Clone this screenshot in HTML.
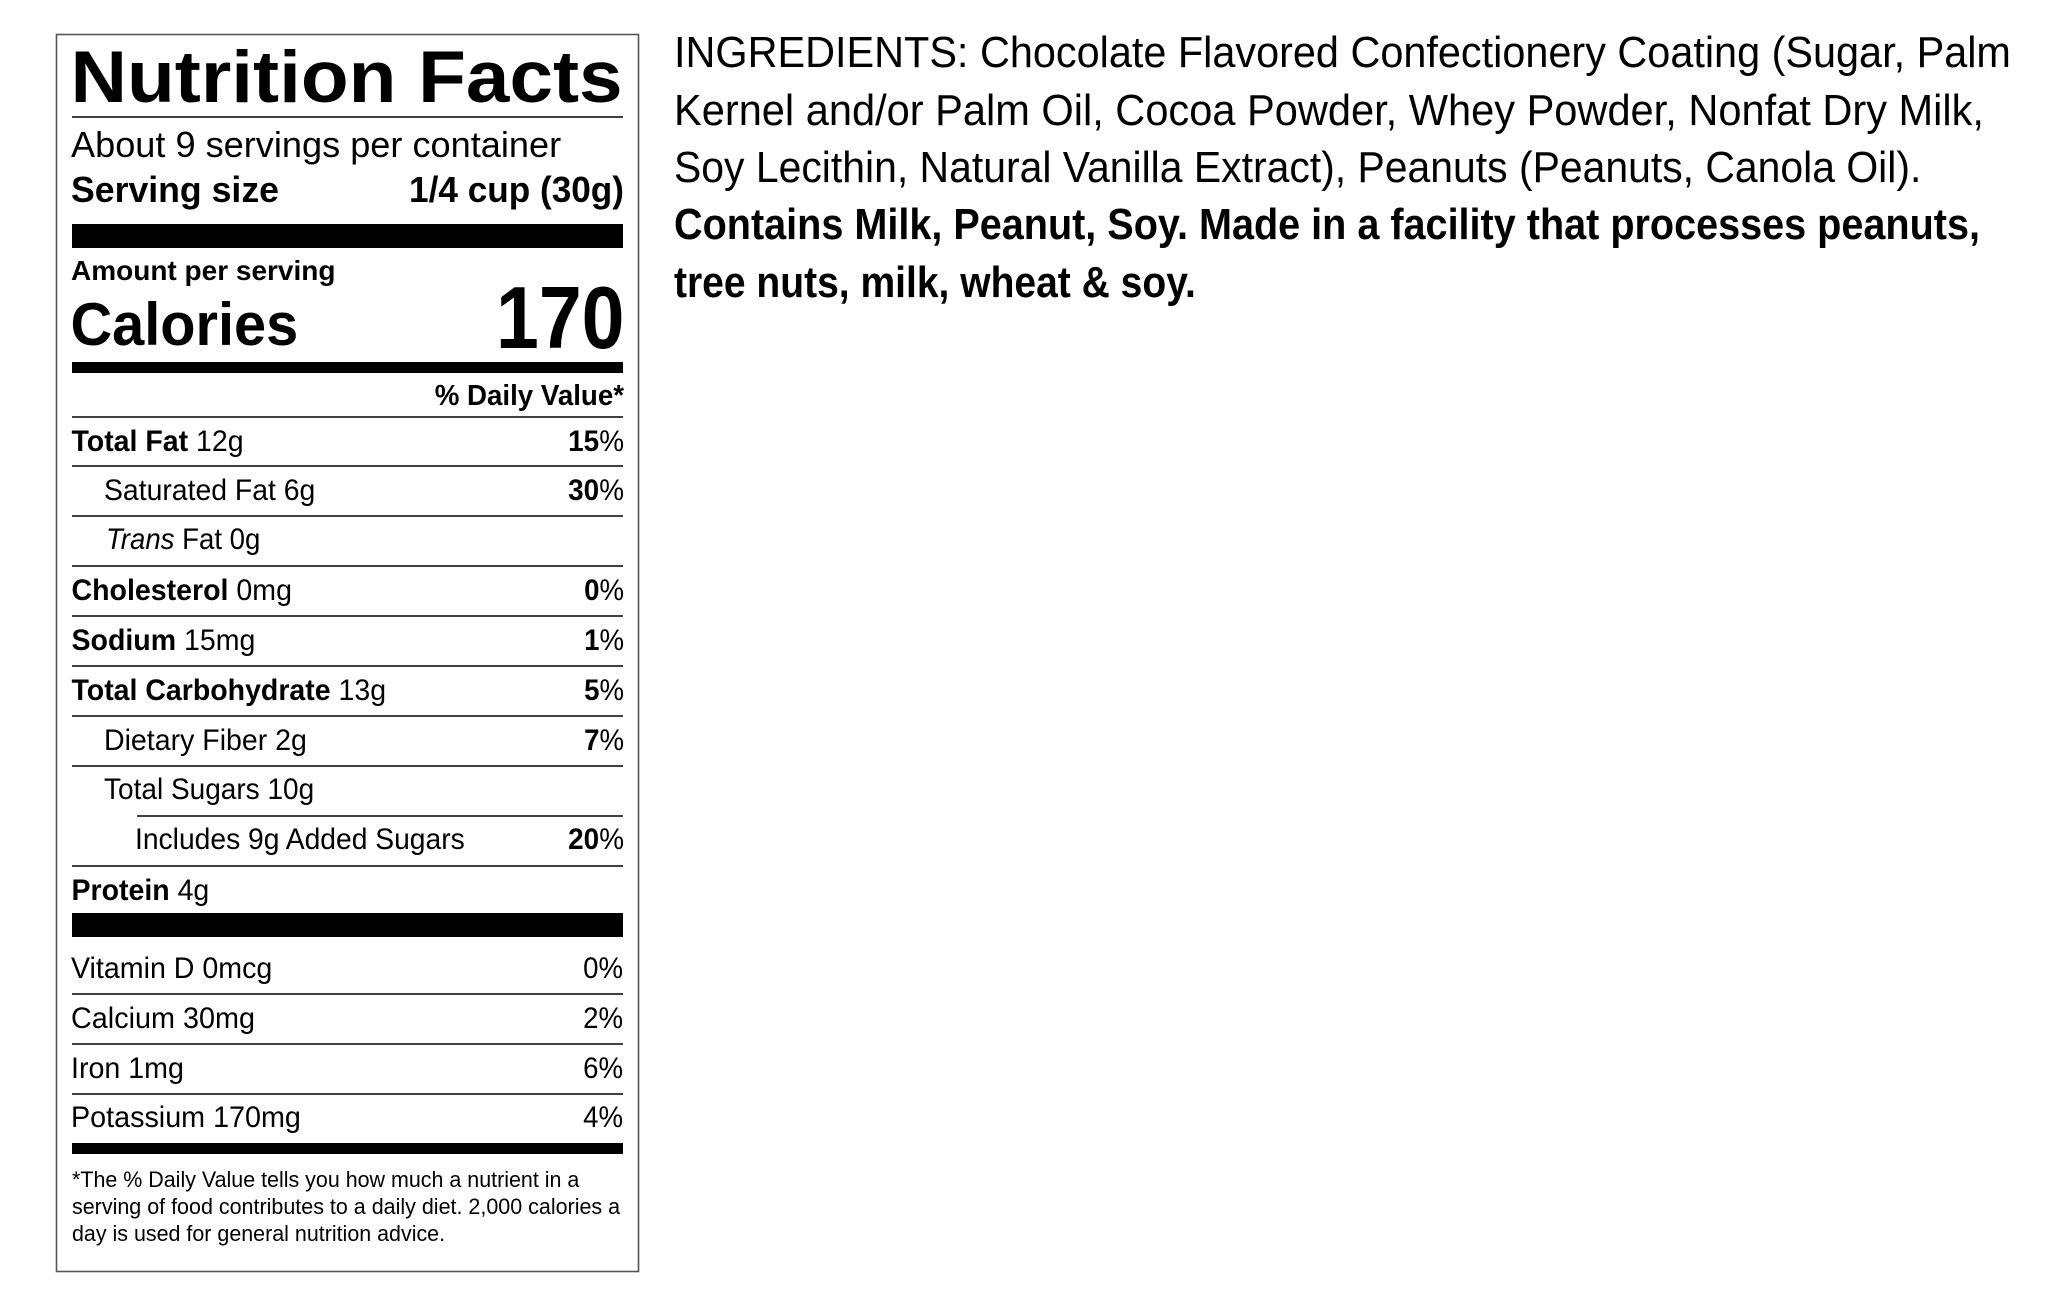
<!DOCTYPE html>
<html>
<head>
<meta charset="utf-8">
<style>
  html, body { margin: 0; padding: 0; background: #ffffff; }
  body { width: 2048px; height: 1293px; overflow: hidden; }
  svg { display: block; }
  text { font-family: "Liberation Sans", Arial, sans-serif; fill: #000; }
  .b { font-weight: bold; }
</style>
</head>
<body>
<svg width="2048" height="1293" viewBox="0 0 2048 1293" xmlns="http://www.w3.org/2000/svg">
  <rect x="0" y="0" width="2048" height="1293" fill="#ffffff"/>

  <!-- Nutrition box -->
  <rect x="56.5" y="34.5" width="582" height="1237" fill="none" stroke="#555" stroke-width="1.6"/>

  <!-- Title -->
  <text class="b" font-size="73" transform="translate(70.5,102) scale(1.072,1)">Nutrition Facts</text>
  <line x1="72" y1="117" x2="623" y2="117" stroke="#000" stroke-width="1.6"/>

  <text font-size="36" transform="translate(71,157) scale(1.004,1)">About 9 servings per container</text>
  <text class="b" font-size="36" transform="translate(71,202) scale(0.99,1)">Serving size</text>
  <text class="b" font-size="36" text-anchor="end" transform="translate(624,202) scale(0.977,1)">1/4 cup (30g)</text>

  <rect x="72" y="224" width="551" height="24" fill="#000"/>

  <text class="b" font-size="28" transform="translate(71,280) scale(1.0,1)">Amount per serving</text>
  <text class="b" font-size="60" transform="translate(70.5,345) scale(0.962,1)">Calories</text>
  <text class="b" font-size="88" text-anchor="end" transform="translate(624.5,348) scale(0.875,1)">170</text>

  <rect x="72" y="362" width="551" height="11" fill="#000"/>

  <text class="b" font-size="29" text-anchor="end" transform="translate(624,405) scale(0.955,1)">% Daily Value*</text>

  <!-- Row separators -->
  <g stroke="#000" stroke-width="1.6">
    <line x1="72" y1="417" x2="623" y2="417"/>
    <line x1="72" y1="466" x2="623" y2="466"/>
    <line x1="72" y1="516" x2="623" y2="516"/>
    <line x1="72" y1="566" x2="623" y2="566"/>
    <line x1="72" y1="616" x2="623" y2="616"/>
    <line x1="72" y1="666" x2="623" y2="666"/>
    <line x1="72" y1="716" x2="623" y2="716"/>
    <line x1="72" y1="766" x2="623" y2="766"/>
    <line x1="137" y1="816" x2="623" y2="816"/>
    <line x1="72" y1="866" x2="623" y2="866"/>
    <line x1="72" y1="994" x2="623" y2="994"/>
    <line x1="72" y1="1044" x2="623" y2="1044"/>
    <line x1="72" y1="1094" x2="623" y2="1094"/>
  </g>

  <!-- Nutrient rows -->
  <g font-size="30">
    <text transform="translate(71.5,451) scale(0.95,1)"><tspan class="b">Total Fat</tspan> 12g</text>
    <text text-anchor="end" transform="translate(624,451) scale(0.93,1)"><tspan class="b">15</tspan>%</text>

    <text transform="translate(104,500) scale(0.946,1)">Saturated Fat 6g</text>
    <text text-anchor="end" transform="translate(624,500) scale(0.93,1)"><tspan class="b">30</tspan>%</text>

    <text transform="translate(106,549) scale(0.92,1)"><tspan font-style="italic">Trans</tspan> Fat 0g</text>

    <text transform="translate(71.5,600) scale(0.952,1)"><tspan class="b">Cholesterol</tspan> 0mg</text>
    <text text-anchor="end" transform="translate(624,600) scale(0.92,1)"><tspan class="b">0</tspan>%</text>

    <text transform="translate(71.5,650) scale(0.951,1)"><tspan class="b">Sodium</tspan> 15mg</text>
    <text text-anchor="end" transform="translate(624,650) scale(0.92,1)"><tspan class="b">1</tspan>%</text>

    <text transform="translate(71.5,700) scale(0.95,1)"><tspan class="b">Total Carbohydrate</tspan> 13g</text>
    <text text-anchor="end" transform="translate(624,700) scale(0.92,1)"><tspan class="b">5</tspan>%</text>

    <text transform="translate(104,750) scale(0.951,1)">Dietary Fiber 2g</text>
    <text text-anchor="end" transform="translate(624,750) scale(0.92,1)"><tspan class="b">7</tspan>%</text>

    <text transform="translate(104,799) scale(0.934,1)">Total Sugars 10g</text>

    <text transform="translate(135,849) scale(0.942,1)">Includes 9g Added Sugars</text>
    <text text-anchor="end" transform="translate(624,849) scale(0.93,1)"><tspan class="b">20</tspan>%</text>

    <text transform="translate(71.5,900) scale(0.95,1)"><tspan class="b">Protein</tspan> 4g</text>
  </g>

  <rect x="72" y="913" width="551" height="24" fill="#000"/>

  <g font-size="30">
    <text transform="translate(71,978) scale(0.954,1)">Vitamin D 0mcg</text>
    <text text-anchor="end" transform="translate(623,978) scale(0.92,1)">0%</text>

    <text transform="translate(71,1028) scale(0.96,1)">Calcium 30mg</text>
    <text text-anchor="end" transform="translate(623,1028) scale(0.92,1)">2%</text>

    <text transform="translate(71,1078) scale(0.954,1)">Iron 1mg</text>
    <text text-anchor="end" transform="translate(623,1078) scale(0.92,1)">6%</text>

    <text transform="translate(71,1127) scale(0.958,1)">Potassium 170mg</text>
    <text text-anchor="end" transform="translate(623,1127) scale(0.92,1)">4%</text>
  </g>

  <rect x="72" y="1143" width="551" height="11" fill="#000"/>

  <g font-size="22">
    <text transform="translate(72,1187) scale(0.975,1)">*The % Daily Value tells you how much a nutrient in a</text>
    <text transform="translate(72,1214) scale(0.977,1)">serving of food contributes to a daily diet. 2,000 calories a</text>
    <text transform="translate(72,1241) scale(0.975,1)">day is used for general nutrition advice.</text>
  </g>

  <!-- Ingredients -->
  <g font-size="44">
    <text transform="translate(674,67) scale(0.941,1)">INGREDIENTS: Chocolate Flavored Confectionery Coating (Sugar, Palm</text>
    <text transform="translate(674,125) scale(0.945,1)">Kernel and/or Palm Oil, Cocoa Powder, Whey Powder, Nonfat Dry Milk,</text>
    <text transform="translate(674,182) scale(0.930,1)">Soy Lecithin, Natural Vanilla Extract), Peanuts (Peanuts, Canola Oil).</text>
    <text class="b" transform="translate(674,239) scale(0.90,1)">Contains Milk, Peanut, Soy. Made in a facility that processes peanuts,</text>
    <text class="b" transform="translate(674,297) scale(0.887,1)">tree nuts, milk, wheat &amp; soy.</text>
  </g>
</svg>
</body>
</html>
